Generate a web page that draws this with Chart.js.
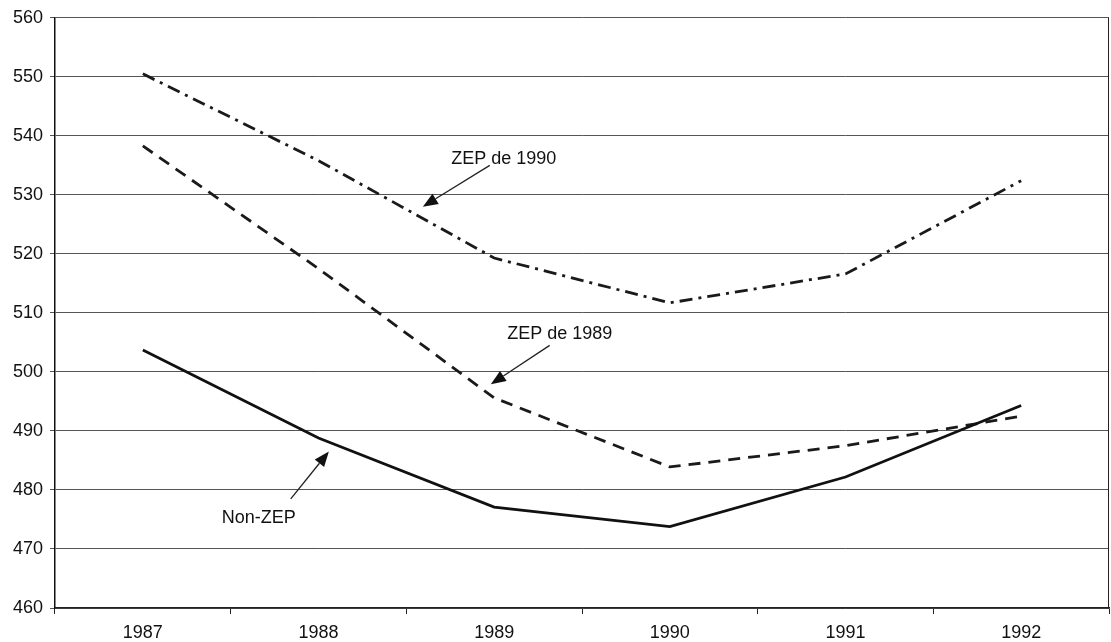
<!DOCTYPE html>
<html lang="fr">
<head>
    <meta charset="UTF-8">
    <title>ZEP / Non-ZEP</title>
    <script src="https://cdn.jsdelivr.net/npm/chart.js"></script>
    <style>
        html, body { margin: 0; padding: 0; background: #fff; }
        #wrap { width: 1111px; height: 642px; }
    </style>
</head>
<body>
    <div id="wrap"><canvas id="chart"></canvas></div>

    <script>
        // data
        const years = ["1987", "1988", "1989", "1990", "1991", "1992"];
        const nonZep = [503.7, 488.8, 477.1, 473.8, 482.2, 494.3];
        const zep1989 = [538.3, 517.5, 495.6, 483.9, 487.5, 492.5];
        const zep1990 = [550.5, 535.8, 519.3, 511.7, 516.6, 532.4];

        // labels with arrows, in data units (x = category index)
        const notes = [
            { text: "ZEP de 1990", at: [2.055, 536.1], from: [1.975, 535.0], to: [1.594, 528.0] },
            { text: "ZEP de 1989", at: [2.373, 506.5], from: [2.316, 504.5], to: [1.981, 497.9] },
            { text: "Non-ZEP", at: [0.660, 475.3], from: [0.842, 478.5], to: [1.059, 486.5] }
        ];

        const font = "Liberation Sans, Arial, sans-serif";

        const notesPlugin = {
            id: "notes",
            afterDatasetsDraw(chart) {
                const ctx = chart.ctx;
                const x = chart.scales.x, y = chart.scales.y;
                const a = chart.chartArea;

                // right border of the plot box
                ctx.save();
                ctx.strokeStyle = "#222";
                ctx.lineWidth = 1;
                ctx.beginPath();
                ctx.moveTo(a.right - 0.5, a.top);
                ctx.lineTo(a.right - 0.5, a.bottom);
                ctx.stroke();

                ctx.fillStyle = "#111";
                ctx.font = "18px " + font;
                ctx.textAlign = "center";
                ctx.textBaseline = "middle";
                notes.forEach(n => {
                    ctx.fillText(n.text, x.getPixelForValue(n.at[0]), y.getPixelForValue(n.at[1]));
                    const x1 = x.getPixelForValue(n.from[0]), y1 = y.getPixelForValue(n.from[1]);
                    const x2 = x.getPixelForValue(n.to[0]), y2 = y.getPixelForValue(n.to[1]);
                    const ang = Math.atan2(y2 - y1, x2 - x1);
                    const len = 15, half = 6;
                    const bx = x2 - len * Math.cos(ang), by = y2 - len * Math.sin(ang);
                    ctx.lineWidth = 1.3;
                    ctx.beginPath();
                    ctx.moveTo(x1, y1);
                    ctx.lineTo(bx, by);
                    ctx.stroke();
                    ctx.beginPath();
                    ctx.moveTo(x2, y2);
                    ctx.lineTo(bx + half * Math.sin(ang), by - half * Math.cos(ang));
                    ctx.lineTo(bx - half * Math.sin(ang), by + half * Math.cos(ang));
                    ctx.closePath();
                    ctx.fill();
                });
                ctx.restore();
            }
        };

        new Chart(document.getElementById("chart"), {
            type: "line",
            data: {
                labels: years,
                datasets: [
                    { label: "Non-ZEP", data: nonZep, borderColor: "#111", borderWidth: 2.8, tension: 0 },
                    { label: "ZEP de 1989", data: zep1989, borderColor: "#1a1a1a", borderWidth: 2.8, borderDash: [12, 8], tension: 0 },
                    { label: "ZEP de 1990", data: zep1990, borderColor: "#1a1a1a", borderWidth: 2.8, borderDash: [13, 6, 3, 6], tension: 0 }
                ]
            },
            options: {
                responsive: true,
                maintainAspectRatio: false,
                animation: false,
                devicePixelRatio: 1,
                layout: { padding: { top: 15, right: 2, left: 0, bottom: 0 } },
                elements: { point: { radius: 0, hoverRadius: 0 } },
                plugins: {
                    legend: { display: false },
                    tooltip: { enabled: false }
                },
                scales: {
                    x: {
                        offset: true,
                        grid: { offset: true, drawOnChartArea: false, drawTicks: true, tickLength: 6, color: "#222" },
                        border: { color: "#222", width: 1.5 },
                        ticks: { color: "#111", font: { family: font, size: 18 }, padding: 8, maxRotation: 0 },
                        afterFit(s) { s.height = 34; }
                    },
                    y: {
                        min: 460,
                        max: 560,
                        ticks: { stepSize: 10, color: "#111", font: { family: font, size: 18 }, padding: 7 },
                        grid: { color: "#555", lineWidth: 1, tickLength: 5 },
                        border: { color: "#111", width: 1.5 },
                        afterFit(s) { s.width = 55; }
                    }
                }
            },
            plugins: [notesPlugin]
        });
    </script>
</body>
</html>
